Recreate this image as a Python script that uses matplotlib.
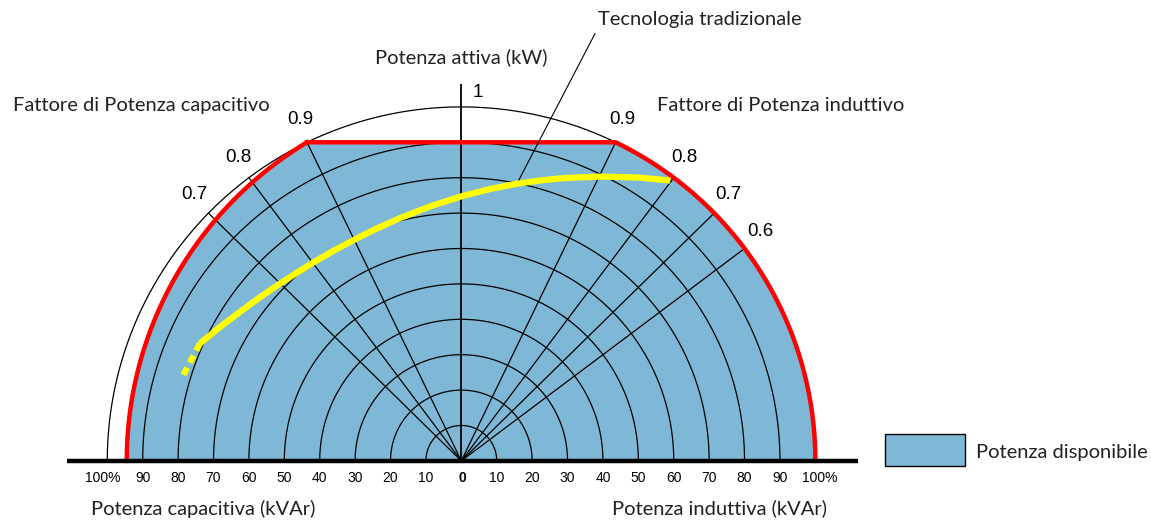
import numpy as np
import matplotlib.pyplot as plt
from matplotlib.patches import Polygon, Rectangle

plt.rcParams['font.family'] = ['Lato', 'DejaVu Sans']

# dati del diagramma (valori in p.u. di 100%)
anelli = [10, 20, 30, 40, 50, 60, 70, 80, 90, 100]
pf_induttivo = [0.9, 0.8, 0.7, 0.6]
pf_capacitivo = [0.9, 0.8, 0.7]
p_max = 0.9          # limite potenza attiva
q_cap_max = 0.945    # limite capacitivo a P = 0
s_max = 1.0          # limite lato induttivo

# curva "Tecnologia tradizionale" (Q, P)
trad_q = [0.590, 0.505, 0.448, 0.392, 0.335, 0.279, 0.222, 0.157, 0.081, 0.002,
          -0.088, -0.173, -0.244, -0.306, -0.362, -0.419, -0.464, -0.512, -0.569,
          -0.625, -0.682, -0.738]
trad_p = [0.792, 0.800, 0.802, 0.803, 0.801, 0.798, 0.792, 0.783, 0.768, 0.748,
          0.719, 0.686, 0.654, 0.623, 0.593, 0.560, 0.532, 0.501, 0.462,
          0.421, 0.378, 0.332]
trad_dash_q = [-0.738, -0.785]
trad_dash_p = [0.332, 0.243]

blu = '#7FB7D6'
rosso = '#FF0000'
giallo = '#FFFF00'
col_txt = '#222222'
fs_txt = 14.5
fs_num = 13.5

fig = plt.figure(figsize=(11.51, 5.2), dpi=100)
ax = fig.add_axes([0, 0, 1, 1])
ax.set_xlim(-1.303, 1.948)
ax.set_ylim(-0.167, 1.302)
ax.axis('off')

# area disponibile
th_top = np.arccos(p_max)
q_top = s_max * np.sin(th_top)
th = np.linspace(th_top, np.pi / 2, 200)
arco_dx = np.column_stack([s_max * np.sin(th), s_max * np.cos(th)])

# lato capacitivo: arco con centro sull'asse Q
c = (q_cap_max**2 - q_top**2 - p_max**2) / (2 * (-q_cap_max + q_top))
R = q_cap_max + c
phi0 = np.arctan2(p_max, -q_top - c)
phi = np.linspace(np.pi, phi0, 200)
arco_sx = np.column_stack([c + R * np.cos(phi), R * np.sin(phi)])

poly = np.vstack([[[-q_top, p_max], [q_top, p_max]], arco_dx, [[-q_cap_max, 0]], arco_sx])
ax.add_patch(Polygon(poly, closed=True, facecolor=blu, edgecolor='none', zorder=1))

# cerchi
t = np.linspace(-np.pi / 2, np.pi / 2, 400)
for a in anelli:
    r = a / 100
    ax.plot(r * np.sin(t), r * np.cos(t), color='black', lw=0.9, zorder=2)

# linee del fattore di potenza
for pf in pf_induttivo:
    a = np.arccos(pf)
    ax.plot([0, np.sin(a)], [0, np.cos(a)], color='black', lw=0.9, zorder=2)
    ax.text(1.065 * np.sin(a - 0.01), 1.065 * np.cos(a - 0.01), str(pf),
            family=['Liberation Sans'], fontsize=fs_num, ha='center', va='center')
for pf in pf_capacitivo:
    a = np.arccos(pf)
    ax.plot([0, -np.sin(a)], [0, np.cos(a)], color='black', lw=0.9, zorder=2)
    ax.text(-1.065 * np.sin(a - 0.01), 1.065 * np.cos(a - 0.01), str(pf),
            family=['Liberation Sans'], fontsize=fs_num, ha='center', va='center')

# asse potenza attiva
ax.plot([0, 0], [0, 1.062], color='black', lw=1.3, zorder=2)
ax.text(0.046, 1.042, '1', family=['Liberation Sans'], fontsize=fs_num,
        ha='center', va='center')

# contorno rosso
ax.plot(np.r_[-q_top, q_top, arco_dx[:, 0]], np.r_[p_max, p_max, arco_dx[:, 1]],
        color=rosso, lw=3.2, zorder=3, solid_joinstyle='miter')
ax.plot(arco_sx[:, 0], arco_sx[:, 1], color=rosso, lw=3.2, zorder=3)

# tecnologia tradizionale
ax.plot(trad_q, trad_p, color=giallo, lw=4.5, zorder=4, solid_capstyle='butt',
        solid_joinstyle='round')
ax.plot(trad_dash_q, trad_dash_p, color=giallo, lw=4.5, zorder=4,
        linestyle=(0, (1.3, 0.9)), dash_capstyle='butt')
ax.annotate('Tecnologia tradizionale', xy=(0.157, 0.783), xytext=(0.673, 1.246),
            fontsize=fs_txt, ha='center', va='center', color=col_txt,
            arrowprops=dict(arrowstyle='-', color='black', lw=0.8,
                            shrinkA=2, shrinkB=0, relpos=(0.0, 0.0)))

# asse Q
ax.plot([-1.113, 1.12], [0, 0], color='black', lw=3.2, zorder=5, solid_capstyle='butt')
for a in anelli:
    lab = '100%' if a == 100 else str(a)
    dx = 0.012 if a == 100 else 0
    ax.text(a / 100 + dx, -0.048, lab, family=['Liberation Sans'],
            fontsize=10, ha='center', va='center')
    ax.text(-a / 100 - dx, -0.048, lab, family=['Liberation Sans'],
            fontsize=10, ha='center', va='center')
ax.text(0.002, -0.048, '0', family=['Liberation Sans'], fontsize=10,
        fontweight='bold', ha='center', va='center')

# titoli
ax.text(0.0, 1.141, 'Potenza attiva (kW)', fontsize=fs_txt, ha='center', va='center',
        color=col_txt)
ax.text(-0.905, 1.005, 'Fattore di Potenza capacitivo', fontsize=fs_txt, ha='center',
        va='center', color=col_txt)
ax.text(0.903, 1.005, 'Fattore di Potenza induttivo', fontsize=fs_txt, ha='center',
        va='center', color=col_txt)
ax.text(-0.730, -0.135, 'Potenza capacitiva (kVAr)', fontsize=fs_txt, ha='center',
        va='center', color=col_txt)
ax.text(0.728, -0.135, 'Potenza induttiva (kVAr)', fontsize=fs_txt, ha='center',
        va='center', color=col_txt)

# legenda
ax.add_patch(Rectangle((1.197, -0.014), 0.226, 0.090, facecolor=blu,
                       edgecolor='black', lw=1.0, zorder=2))
ax.text(1.453, 0.025, 'Potenza disponibile', fontsize=fs_txt, ha='left', va='center',
        color=col_txt)

fig.savefig('out.png', dpi=100)
